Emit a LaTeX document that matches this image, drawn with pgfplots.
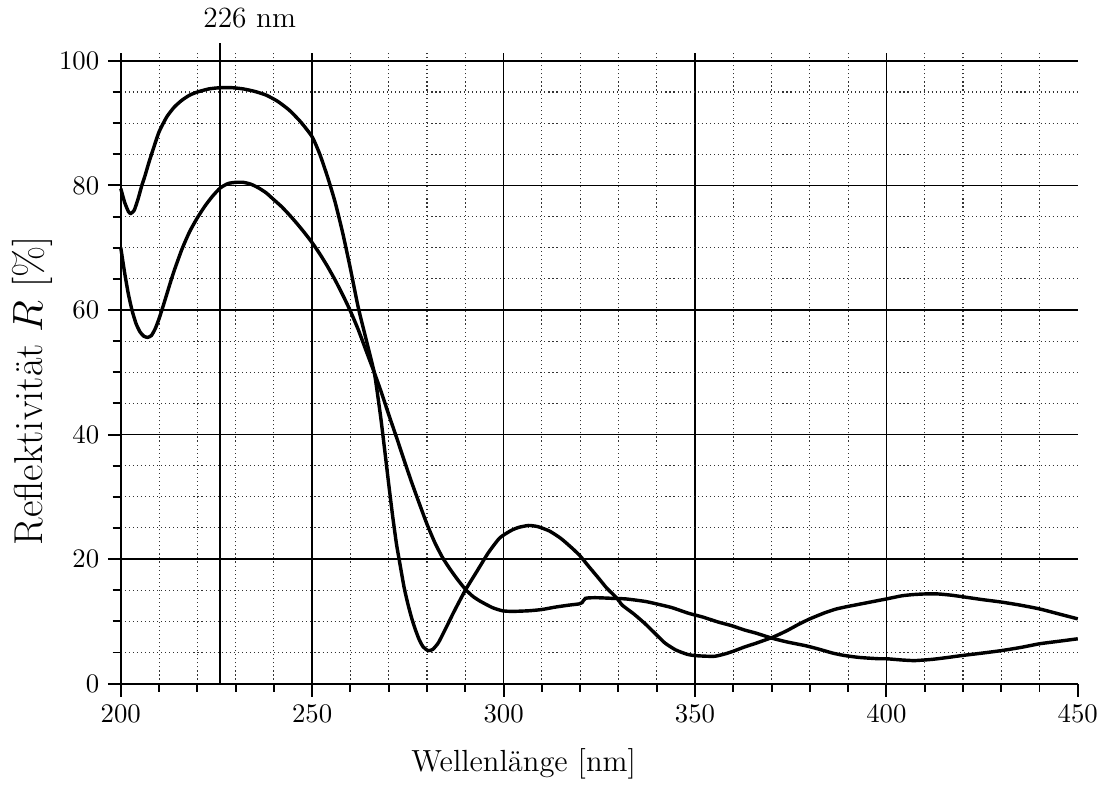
\documentclass[border=0pt]{standalone}
\usepackage{pgfplots}
\pgfplotsset{compat=1.18}
\begin{document}
\begin{tikzpicture}
\begin{axis}[
  scale only axis,
  width=391.4pt, height=258pt,
  xmin=200, xmax=450, ymin=0, ymax=101.3,
  axis x line=bottom, axis y line=left,
  axis line style={-, line width=0.8pt},
  xtick={200,250,...,400},
  extra x ticks={450},
  extra x tick style={grid=none},
  minor xtick={210,220,230,240,260,270,280,290,310,320,330,340,360,370,380,390,410,420,430,440},
  ytick={0,20,...,100},
  minor ytick={5,10,15,25,30,35,45,50,55,65,70,75,85,90,95},
  grid=both,
  major grid style={line width=0.7pt, black},
  minor grid style={line width=0.45pt, black!80, dash pattern=on 0.45pt off 1.2pt},
  tick align=outside,
  major tick length=5.3pt, minor tick length=3.3pt,
  tick style={line width=0.8pt, black},
  tick label style={font=\fontsize{10.5}{12}\selectfont},
  clip=false,
  xlabel={\fontsize{12.5}{15}\selectfont Wellenlänge [nm]},
  ylabel={\fontsize{16.5}{19}\selectfont Reflektivität $R$ [\%]},
  x label style={at={(rel axis cs:0.421,-0.1395)}, anchor=base},
  y label style={at={(rel axis cs:-0.0823,0.464)}, anchor=base},
]
\addplot[line width=0.8pt, black] coordinates {(226,0) (226,102.9)};
\node[anchor=base] at (axis cs:233.7,105.3) {\large 226 nm};
\addplot[line width=1.4pt, black, smooth, tension=0.35] coordinates {
(200,79.5) (201,77.3) (202,75.8) (202.6,75.5) (203.5,76.0) (204.5,77.8) (205.5,80.0)
(206.3,81.5) (207.3,83.6) (208.4,85.7) (210,88.6) (212,91.0) (214,92.6) (216,93.7)
(218,94.5) (220,95.0) (223,95.5) (226,95.7) (229,95.7) (232,95.5) (235,95.1)
(238,94.5) (241,93.5) (244,92.1) (247,90.2) (250,87.8) (252,85.0) (254,81.4)
(256,77.3) (258,72.3) (260,66.6) (262,60.5) (264,55.5) (266.2,50.0) (267,46.8)
(268,42.3) (269,37.2) (270,32.0) (271,27.0) (272,22.5) (272.7,20.0) (274,15.5)
(275,12.8) (276,10.5) (277,8.6) (278,7.0) (279,5.9) (280.3,5.3) (281.5,5.5)
(283,6.6) (285,9.0) (287,11.5) (290,15.0) (293,18.0) (296,21.0) (299,23.4)
(302,24.6) (304,25.1) (306.6,25.4) (309,25.2) (312,24.5) (315,23.3) (318,21.7)
(320,20.5) (322,19.0) (325,16.8) (327,15.3) (329.5,13.8) (331,12.6) (334,11.2)
(337,9.6) (340,7.8) (342.2,6.5) (345,5.4) (348,4.7) (350,4.5) (353,4.4)
(355.3,4.4) (358,4.8) (360,5.2) (363,5.9) (366,6.5) (370.5,7.5) (374,8.5)
(377,9.5) (380,10.4) (384,11.4) (387,12.0) (390,12.4) (395,13.0) (400,13.6)
(404,14.1) (407,14.3) (410,14.4) (413.5,14.4) (417,14.2) (420.5,13.9) (425,13.5)
(430,13.1) (435,12.6) (440,12.0) (445,11.2) (450,10.4)
};
\addplot[line width=1.4pt, black, smooth, tension=0.35] coordinates {
(200,70.0) (201,66.0) (202,62.5) (203,59.8) (204,57.8) (205,56.5) (206,55.8)
(207,55.6) (208,55.9) (209,57.0) (210,58.6) (211,60.5) (212,62.5) (213,64.5)
(214,66.4) (216,69.8) (218,72.6) (220,74.8) (222,76.7) (224,78.3) (226,79.6)
(228,80.3) (230,80.5) (232,80.5) (234,80.2) (236,79.6) (238,78.8) (240,77.7)
(242,76.6) (244,75.3) (246,73.9) (248,72.4) (250,70.8) (252,69.0) (254,67.0)
(256,64.8) (258,62.4) (260,59.8) (262,56.9) (264,53.6) (266.2,50.0) (268,46.9)
(270,43.2) (272,39.6) (274,35.9) (276,32.3) (278,28.9) (280,25.6) (282,22.7)
(284,20.3) (286,18.4) (288,16.7) (290.1,15.1) (292,14.0) (294,13.2) (297.1,12.2)
(299.7,11.7) (302.3,11.6) (306.6,11.7) (310,11.9) (313.6,12.3) (317,12.6)
(319.7,12.8) (320.5,13.0) (321.4,13.7) (324,13.8) (328.3,13.7) (332,13.6)
(337,13.2) (340,12.8) (344,12.2) (348.3,11.3) (352,10.7) (356,9.9) (359.6,9.3)
(363,8.6) (366,8.1) (370.1,7.3) (374,6.7) (378.8,6.1) (382,5.6) (386,4.9)
(389.2,4.5) (393,4.2) (397.9,4.0) (400,4.0) (404,3.8) (407.4,3.7) (412,3.9)
(416,4.2) (419.6,4.5) (425,4.9) (430,5.3) (435,5.8) (440,6.4) (445,6.8) (450,7.2)
};
\end{axis}
\path (-49.4pt,-40.4pt) rectangle (402pt,279.6pt);
\end{tikzpicture}
\end{document}
